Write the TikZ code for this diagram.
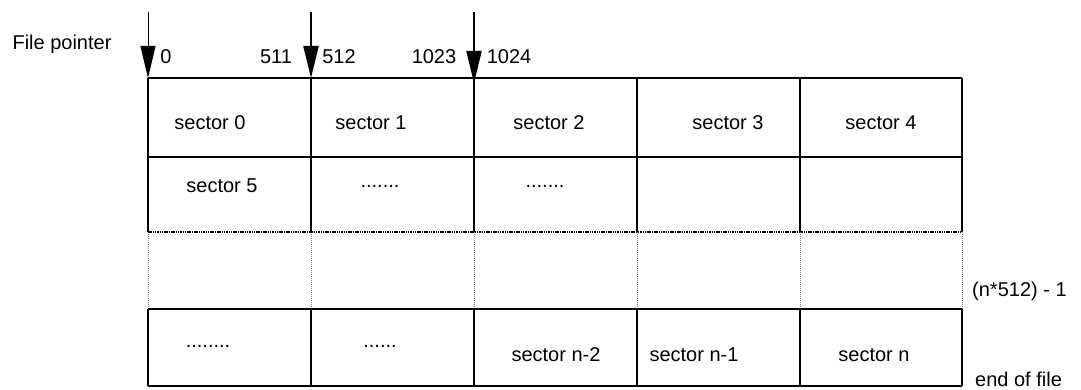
\documentclass[tikz,border=0pt]{standalone}
\usepackage{fontspec}
\setmainfont{Liberation Sans}
\usetikzlibrary{arrows.meta}
\begin{document}
\begin{tikzpicture}[x=1pt,y=-1pt,
		every node/.style={font=\fontsize{20}{24}\selectfont,inner sep=0pt},
		wall/.style={line width=1.8pt},
		dotwall/.style={line width=1pt,gray,dash pattern=on 1pt off 1pt},
		ptr/.style={-{Triangle[length=32pt,width=15pt]}}]
		\useasboundingbox (0,0) rectangle (1081,390);
		% column edges on the top of the table
		\foreach \c/\x in {0/148,1/311,2/474,3/637,4/800,5/962} {
			\coordinate (t\c) at (\x,78);
			\coordinate (m\c) at (\x,232);
			\coordinate (n\c) at (\x,309);
			\coordinate (b\c) at (\x,386);
			\draw[wall] (t\c) -- (m\c);
			\draw[dotwall] (m\c) -- (n\c);
			\draw[wall] (n\c) -- (b\c);
		}
		\draw[wall] (t0) -- (t5);
		\draw[wall] (148,157) -- (962,157);
		\draw[line width=1.8pt,dash pattern=on 1.5pt off 0.8pt] (m0) -- (m5);
		\draw[wall] (n0) -- (n5);
		\draw[wall] (b0) -- (b5);
		% file pointer arrows
		\coordinate (p0) at (148,12);
		\coordinate (p1) at (311,12);
		\coordinate (p2) at (474,12);
		\draw[ptr,line width=0.8pt] (p0) -- (t0);
		\draw[ptr,line width=2.2pt] (p1) -- (t1);
		\draw[ptr,line width=2pt] (p2) -- ([yshift=-5]t2);
		\node (fp) at (62,44) {File pointer};
		\node (o0) at (166,57) {0};
		\node (o511) at (276,57) {511};
		\node (o512) at (339,57) {512};
		\node (o1023) at (434,57) {1023};
		\node (o1024) at (509,57) {1024};
		% row 1
		\node (s0) at (210,123) {sector 0};
		\node (s1) at (371,123) {sector 1};
		\node (s2) at (549,123) {sector 2};
		\node (s3) at (728,123) {sector 3};
		\node (s4) at (881,123) {sector 4};
		% row 2
		\node (s5) at (222,186) {sector 5};
		\node (d1) at (380,186) {.......};
		\node (d2) at (545,186) {.......};
		% last row
		\node (d3) at (208,346) {........};
		\node (d4) at (380,346) {......};
		\node (sn2) at (556,355) {sector n-2};
		\node (sn1) at (694,355) {sector n-1};
		\node (sn) at (874,355) {sector n};
		\node[anchor=west] (last) at (972,291) {(n*512) - 1};
		\node[anchor=west] (eof) at (975,379) {end of file};
	\end{tikzpicture}
\end{document}
